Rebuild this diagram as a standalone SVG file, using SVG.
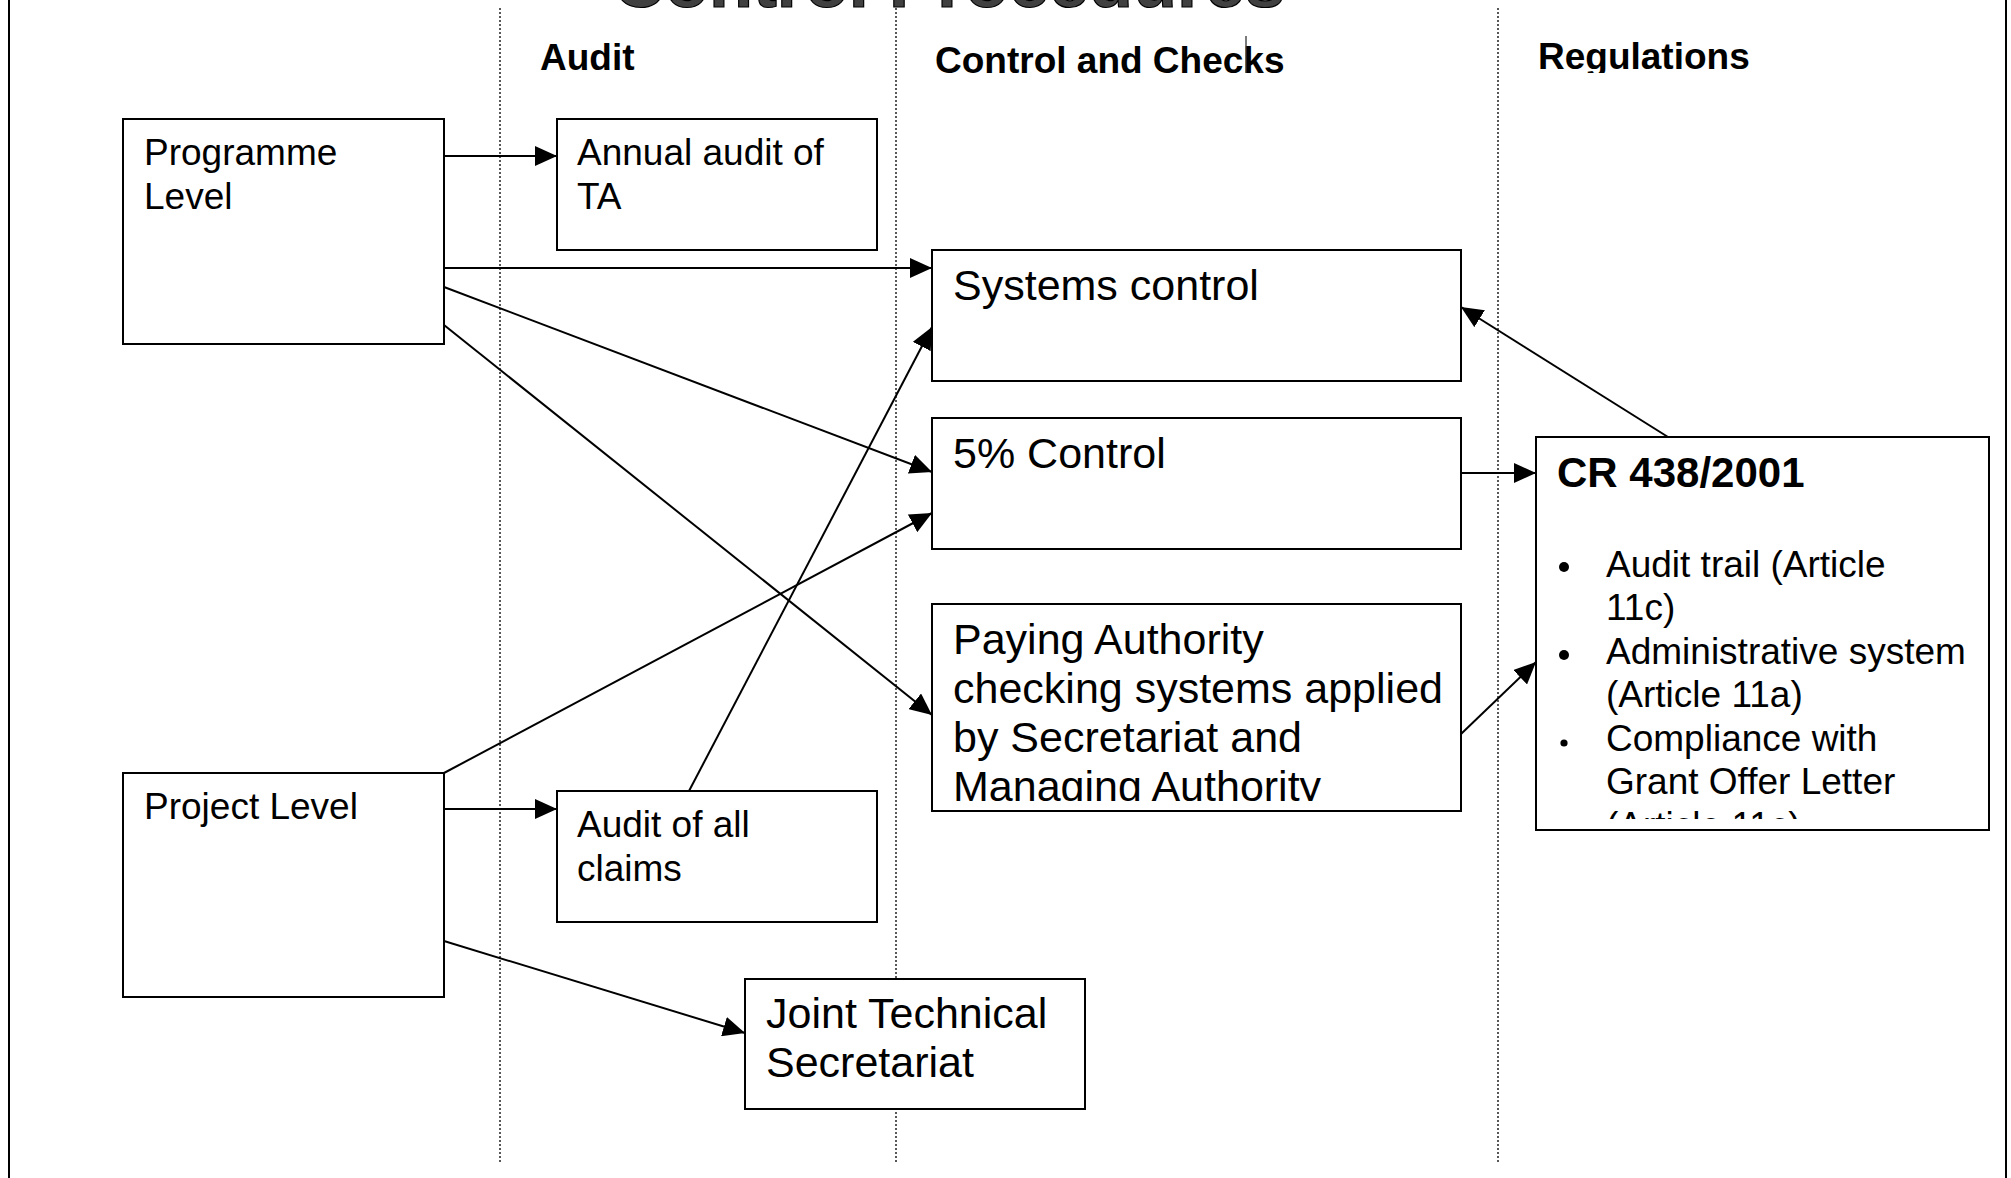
<svg xmlns="http://www.w3.org/2000/svg" width="2011" height="1178" viewBox="0 0 2011 1178">
  <style>
    .box { fill: #fff; stroke: #000; stroke-width: 2; }
    .lane { stroke: #222; stroke-width: 1.5; stroke-dasharray: 2 2; fill: none; }
    .frame { stroke: #000; stroke-width: 2; fill: none; }
    .conn { stroke: #000; stroke-width: 2; fill: none; marker-end: url(#arrow); }
    text { font-family: "Liberation Sans", Arial, sans-serif; fill: #000; }
    .head { font-size: 37px; font-weight: bold; }
    .t37 { font-size: 37px; }
    .t43 { font-size: 43px; }
    .title { font-size: 72px; font-weight: bold; fill: #404040; stroke: #000; stroke-width: 1.2; }
  </style>
  <defs>
    <marker id="arrow" markerUnits="userSpaceOnUse" markerWidth="22" markerHeight="20" refX="22" refY="10" orient="auto">
      <path d="M0,0 L22,10 L0,20 Z" fill="#000"/>
    </marker>
    <clipPath id="clipReg"><rect x="1500" y="20" width="400" height="53"/></clipPath>
    <clipPath id="clipPay"><rect x="934" y="606" width="525" height="195"/></clipPath>
    <clipPath id="clipCR"><rect x="1538" y="439" width="449" height="380"/></clipPath>
  </defs>

  <!-- page frame -->
  <line class="frame" x1="9" y1="0" x2="9" y2="1178"/>
  <line class="frame" x1="2006" y1="0" x2="2006" y2="1178"/>

  <!-- swim-lane separators -->
  <g id="lanes">
    <line class="lane" x1="500" y1="8" x2="500" y2="1163"/>
    <line class="lane" x1="896" y1="8" x2="896" y2="1163"/>
    <line class="lane" x1="1498" y1="8" x2="1498" y2="1163"/>
  </g>

  <!-- page title and column headings -->
  <g id="headings">
    <text class="title" x="949" y="7" text-anchor="middle">Control Procedures</text>
    <text class="head" x="540" y="70">Audit</text>
    <text class="head" x="935" y="73">Control and Checks</text>
    <line x1="1246" y1="36" x2="1246" y2="73" stroke="#333" stroke-width="1.3"/>
    <text class="head" x="1538" y="69" clip-path="url(#clipReg)">Regulations</text>
  </g>

  <g id="programme-level">
    <rect class="box" x="123" y="119" width="321" height="225"/>
    <text class="t37" x="144" y="165">Programme</text>
    <text class="t37" x="144" y="209">Level</text>
  </g>

  <g id="annual-audit">
    <rect class="box" x="557" y="119" width="320" height="131"/>
    <text class="t37" x="577" y="165">Annual audit of</text>
    <text class="t37" x="577" y="209">TA</text>
  </g>

  <g id="systems-control">
    <rect class="box" x="932" y="250" width="529" height="131"/>
    <text class="t43" x="953" y="300">Systems control</text>
  </g>

  <g id="five-percent-control">
    <rect class="box" x="932" y="418" width="529" height="131"/>
    <text class="t43" x="953" y="468">5% Control</text>
  </g>

  <g id="paying-authority">
    <rect class="box" x="932" y="604" width="529" height="207"/>
    <g clip-path="url(#clipPay)">
      <text class="t43" x="953" y="654">Paying Authority</text>
      <text class="t43" x="953" y="703">checking systems applied</text>
      <text class="t43" x="953" y="752">by Secretariat and</text>
      <text class="t43" x="953" y="801">Managing Authority</text>
    </g>
  </g>

  <g id="cr-438-2001">
    <rect class="box" x="1536" y="437" width="453" height="393"/>
    <g clip-path="url(#clipCR)">
      <text x="1557" y="487" font-size="42" font-weight="bold">CR 438/2001</text>
      <circle cx="1564" cy="567" r="5" fill="#000"/>
      <text class="t37" x="1606" y="577">Audit trail (Article</text>
      <text class="t37" x="1606" y="620">11c)</text>
      <circle cx="1564" cy="655" r="5" fill="#000"/>
      <text class="t37" x="1606" y="664">Administrative system</text>
      <text class="t37" x="1606" y="707">(Article 11a)</text>
      <circle cx="1564" cy="743" r="3.6" fill="#000"/>
      <text class="t37" x="1606" y="751">Compliance with</text>
      <text class="t37" x="1606" y="794">Grant Offer Letter</text>
      <text class="t37" x="1606" y="838">(Article 11c)</text>
    </g>
  </g>

  <g id="project-level">
    <rect class="box" x="123" y="773" width="321" height="224"/>
    <text class="t37" x="144" y="819">Project Level</text>
  </g>

  <g id="audit-all-claims">
    <rect class="box" x="557" y="791" width="320" height="131"/>
    <text class="t37" x="577" y="837">Audit of all</text>
    <text class="t37" x="577" y="881">claims</text>
  </g>

  <g id="joint-technical-secretariat">
    <rect class="box" x="745" y="979" width="340" height="130"/>
    <text class="t43" x="766" y="1028">Joint Technical</text>
    <text class="t43" x="766" y="1077">Secretariat</text>
  </g>

  <!-- connectors -->
  <g id="connectors">
    <line class="conn" x1="444" y1="156" x2="557" y2="156"/>
    <line class="conn" x1="444" y1="268" x2="932" y2="268"/>
    <line class="conn" x1="444" y1="287" x2="932" y2="472"/>
    <line class="conn" x1="444" y1="325" x2="932" y2="715"/>
    <line class="conn" x1="444" y1="773" x2="932" y2="513"/>
    <line class="conn" x1="689" y1="791" x2="932" y2="327"/>
    <line class="conn" x1="444" y1="809" x2="557" y2="809"/>
    <line class="conn" x1="444" y1="941" x2="745" y2="1033"/>
    <line class="conn" x1="1461" y1="473" x2="1536" y2="473"/>
    <line class="conn" x1="1668" y1="437" x2="1461" y2="307"/>
    <line class="conn" x1="1461" y1="734" x2="1536" y2="662"/>
  </g>
</svg>
